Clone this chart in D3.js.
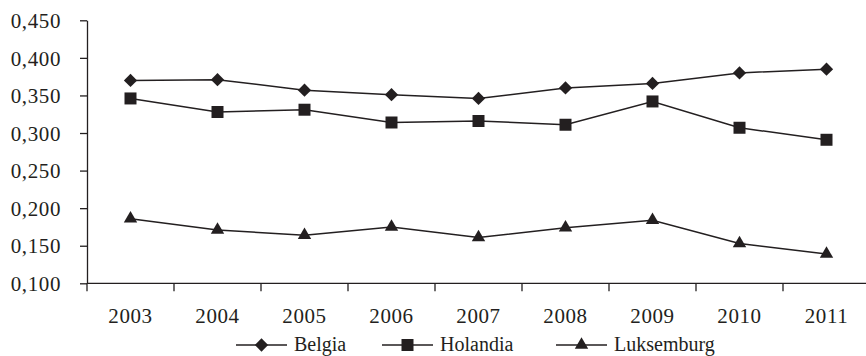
<!DOCTYPE html>
<html>
<head>
<meta charset="utf-8">
<script src="https://cdnjs.cloudflare.com/ajax/libs/d3/7.8.5/d3.min.js"></script>
<style>
  body { margin: 0; background: #fff; }
  svg { display: block; }
</style>
</head>
<body>
<svg id="chart" width="866" height="356"></svg>
<script>
const years = ['2003', '2004', '2005', '2006', '2007', '2008', '2009', '2010', '2011'];
const belgia = [0.370, 0.371, 0.357, 0.351, 0.346, 0.360, 0.366, 0.380, 0.385];
const holandia = [0.346, 0.328, 0.331, 0.314, 0.316, 0.311, 0.342, 0.307, 0.291];
const luksemburg = [0.186, 0.171, 0.164, 0.175, 0.161, 0.174, 0.184, 0.153, 0.139];
const yTicks = [0.100, 0.150, 0.200, 0.250, 0.300, 0.350, 0.400, 0.450];

const series = [
  { name: 'Belgia', values: belgia, shape: 'diamond' },
  { name: 'Holandia', values: holandia, shape: 'square' },
  { name: 'Luksemburg', values: luksemburg, shape: 'triangle' }
];

const ink = '#231f20',
  font = 'Liberation Serif';

const svg = d3.select('#chart');

const x = d3.scaleBand().domain(years).range([87, 870]);
const y = d3.scaleLinear().domain([0.1, 0.45]).range([283.3, 20.3]);

// marker shapes
function marker(shape) {
  if (shape === 'square') return d3.symbol(d3.symbolSquare, 144)();
  if (shape === 'triangle') return d3.symbol(d3.symbolTriangle, 78)();
  return d3.symbol(d3.symbolSquare, 88)(); // rotated below -> diamond
}
function rot(shape) {
  return shape === 'diamond' ? ' rotate(45)' : '';
}

// y axis
const yAxis = d3.axisLeft(y)
  .tickValues(yTicks)
  .tickSize(7)
  .tickSizeOuter(0)
  .tickPadding(19)
  .tickFormat(d => d3.format('.3f')(d).replace('.', ','));

const gy = svg.append('g')
  .attr('transform', 'translate(87,0)')
  .call(yAxis)
  .attr('font-family', null)
  .attr('font-size', null);
gy.select('.domain').attr('stroke', ink).attr('stroke-width', 1.3);
gy.selectAll('.tick line').attr('stroke', ink).attr('stroke-width', 1.3);
gy.selectAll('.tick text')
  .attr('fill', ink)
  .attr('font-family', font)
  .attr('font-size', 21)
  .attr('letter-spacing', 0.6)
  .attr('dy', '0.34em');

// x axis
const gx = svg.append('g');
gx.append('line')
  .attr('x1', x.range()[0]).attr('x2', x.range()[1])
  .attr('y1', y(0.1)).attr('y2', y(0.1))
  .attr('stroke', ink).attr('stroke-width', 1.3);

const bounds = years.map(d => x(d)).concat(x.range()[1]);
gx.selectAll('.xtick').data(bounds).enter()
  .append('line')
  .attr('class', 'xtick')
  .attr('x1', d => d).attr('x2', d => d)
  .attr('y1', y(0.1)).attr('y2', y(0.1) + 8)
  .attr('stroke', ink).attr('stroke-width', 1.3);

gx.selectAll('.xlabel').data(years).enter()
  .append('text')
  .attr('class', 'xlabel')
  .attr('x', d => x(d) + x.bandwidth() / 2)
  .attr('y', 322.5)
  .attr('text-anchor', 'middle')
  .attr('fill', ink)
  .attr('font-family', font)
  .attr('font-size', 21)
  .attr('letter-spacing', 0.6)
  .text(d => d);

// lines + markers
const line = d3.line()
  .x((v, i) => x(years[i]) + x.bandwidth() / 2)
  .y(v => y(v));

series.forEach(function(s) {
  svg.append('path')
    .datum(s.values)
    .attr('d', line)
    .attr('fill', 'none')
    .attr('stroke', ink)
    .attr('stroke-width', 1.5);

  svg.selectAll('.m-' + s.shape).data(s.values).enter()
    .append('path')
    .attr('class', 'm-' + s.shape)
    .attr('d', marker(s.shape))
    .attr('fill', ink)
    .attr('transform', (v, i) =>
      `translate(${x(years[i]) + x.bandwidth() / 2},${y(v)})` + rot(s.shape));
});

// legend
const legendX = [236, 382, 556],
  legendY = 345;

const lg = svg.selectAll('.legend').data(series).enter()
  .append('g')
  .attr('class', 'legend')
  .attr('transform', (d, i) => `translate(${legendX[i]},${legendY})`);

lg.append('line')
  .attr('x1', 0).attr('x2', 51)
  .attr('stroke', ink).attr('stroke-width', 1.5);

lg.append('path')
  .attr('d', d => marker(d.shape))
  .attr('fill', ink)
  .attr('transform', d => 'translate(25.5,0)' + rot(d.shape));

lg.append('text')
  .attr('x', 58)
  .attr('dy', '0.32em')
  .attr('fill', ink)
  .attr('font-family', font)
  .attr('font-size', 20)
  .text(d => d.name);
</script>
</body>
</html>
